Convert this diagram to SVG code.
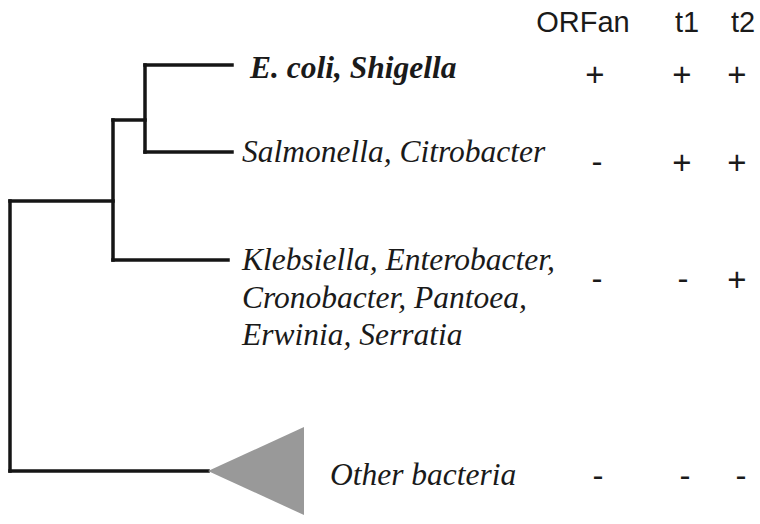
<svg xmlns="http://www.w3.org/2000/svg" width="760" height="524" viewBox="0 0 760 524">
<style>
.br{stroke:#151515;stroke-width:3.5;fill:none;stroke-linecap:square}
.tx{font-family:"Liberation Serif","Times New Roman",serif;font-style:italic;font-size:31.5px;fill:#1a1a1a}
.b{font-weight:bold}
.hd{font-family:"Liberation Sans",Arial,sans-serif;font-size:29px;fill:#1a1a1a;text-anchor:middle}
.mk{font-family:"Liberation Sans",Arial,sans-serif;font-size:33px;fill:#1a1a1a;text-anchor:middle}
</style>
<rect width="760" height="524" fill="#ffffff"/>
<g id="connectors">
<path class="br" d="M10,201 V471"/>
<path class="br" d="M10,201 H113"/>
<path class="br" d="M113,120 V260"/>
<path class="br" d="M113,260 H228"/>
<path class="br" d="M113,120 H145"/>
<path class="br" d="M145,65 V152"/>
<path class="br" d="M145,65 H232"/>
<path class="br" d="M145,152 H232"/>
<path class="br" d="M10,471 H208"/>
</g>
<g id="header">
<text class="hd" x="583" y="32">ORFan</text>
<text class="hd" x="687" y="32">t1</text>
<text class="hd" x="743" y="32">t2</text>
</g>
<g id="node-ecoli">
<text class="tx b" x="250" y="78">E. coli, Shigella</text>
<text class="mk" x="595" y="86">+</text>
<text class="mk" x="682" y="86">+</text>
<text class="mk" x="737" y="86">+</text>
</g>
<g id="node-salmonella">
<text class="tx" x="242" y="162">Salmonella, Citrobacter</text>
<text class="mk" x="597" y="173">-</text>
<text class="mk" x="682" y="174">+</text>
<text class="mk" x="737" y="174">+</text>
</g>
<g id="node-klebsiella">
<text class="tx" x="242" y="270">Klebsiella, Enterobacter,</text>
<text class="tx" x="242" y="308">Cronobacter, Pantoea,</text>
<text class="tx" x="242" y="345">Erwinia, Serratia</text>
<text class="mk" x="597" y="290">-</text>
<text class="mk" x="683" y="290">-</text>
<text class="mk" x="737" y="291">+</text>
</g>
<g id="node-other">
<polygon points="208,471 304,427 304,515" fill="#999999"/>
<text class="tx" x="330" y="485">Other bacteria</text>
<text class="mk" x="598" y="487">-</text>
<text class="mk" x="685" y="487">-</text>
<text class="mk" x="741" y="487">-</text>
</g>
</svg>
